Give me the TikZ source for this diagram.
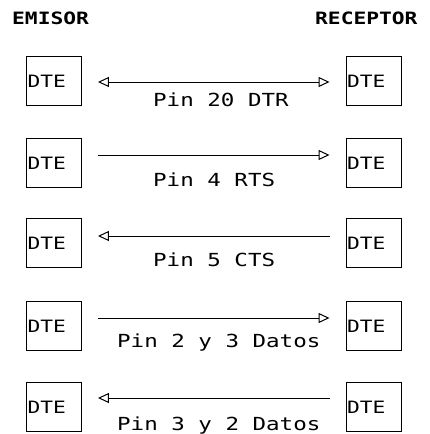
\documentclass[tikz,border=0pt]{standalone}
\usepackage{fontspec}
\newfontfamily\dotfont{DejaVu Sans Mono}[Scale=1.0]
\usetikzlibrary{arrows.meta}
\newcommand{\spread}[1]{\scalebox{1.25}[1]{#1}}
\tikzset{
    dte/.style={draw, line width=0.9pt, minimum width=55pt, minimum height=49pt, inner xsep=1pt, text width=53pt, align=left, font=\dotfont\fontsize{17}{17}\selectfont},
    sig/.style={line width=0.9pt, shorten <=16pt, shorten >=16pt},
    opentip/.tip={Triangle[open, length=11pt, width=10pt, line width=1pt]},
    pinlbl/.style={anchor=base west, inner sep=0pt, font=\dotfont\fontsize{18}{18}\selectfont},
    hdr/.style={anchor=base west, inner sep=0pt, font=\dotfont\bfseries\fontsize{17}{17}\selectfont}
}
\begin{document}
\begin{tikzpicture}[x=1pt, y=1pt]
    \useasboundingbox (0,0) rectangle (429,434);
    % Headers
    \node[hdr] (emisor) at (12,409) {\spread{EMISOR}};
    \node[hdr] (receptor) at (315,409) {\spread{RECEPTOR}};
    % Boxes, left = emisor, right = receptor
    \node[dte] (l1) at (54,353) {\spread{DTE}}; \node[dte] (r1) at (373.5,353) {\spread{DTE}};
    \node[dte] (l2) at (54,271) {\spread{DTE}}; \node[dte] (r2) at (373.5,271) {\spread{DTE}};
    \node[dte] (l3) at (54,191) {\spread{DTE}}; \node[dte] (r3) at (373.5,191) {\spread{DTE}};
    \node[dte] (l4) at (54,108) {\spread{DTE}}; \node[dte] (r4) at (373.5,108) {\spread{DTE}};
    \node[dte] (l5) at (54,27) {\spread{DTE}};  \node[dte] (r5) at (373.5,27) {\spread{DTE}};
    % Signal lines
    \draw[sig, opentip-opentip] ([yshift=-1pt]l1.east) -- ([yshift=-1pt]r1.west);
    \draw[sig, -opentip] ([yshift=8pt]l2.east) -- ([yshift=8pt]r2.west);
    \draw[sig, opentip-] ([yshift=7pt]l3.east) -- ([yshift=7pt]r3.west);
    \draw[sig, -opentip] ([yshift=8pt]l4.east) -- ([yshift=8pt]r4.west);
    \draw[sig, opentip-] ([yshift=9pt]l5.east) -- ([yshift=9pt]r5.west);
    % Pin labels
    \node[pinlbl] (p1) at (153,327) {\spread{Pin 20 DTR}};
    \node[pinlbl] (p2) at (153,247) {\spread{Pin 4 RTS}};
    \node[pinlbl] (p3) at (153,167) {\spread{Pin 5 CTS}};
    \node[pinlbl] (p4) at (117,86) {\spread{Pin 2 y 3 Datos}};
    \node[pinlbl] (p5) at (117,4) {\spread{Pin 3 y 2 Datos}};
\end{tikzpicture}
\end{document}
